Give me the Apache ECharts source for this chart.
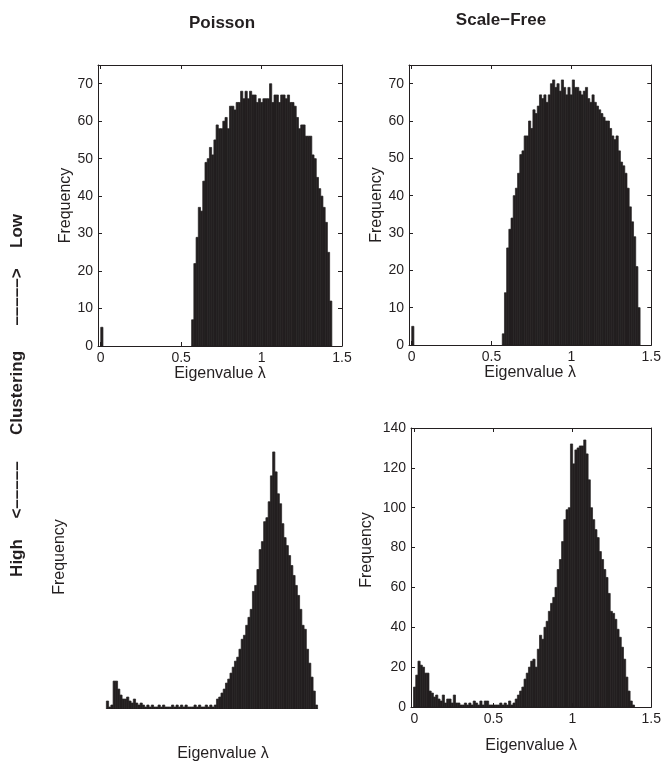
<!DOCTYPE html>
<html><head><meta charset="utf-8">
<script src="https://cdn.jsdelivr.net/npm/echarts@6/dist/echarts.min.js"></script>
<style>html,body{margin:0;padding:0;background:#fff}#c{width:664px;height:762px}</style>
</head><body><div id="c"></div>
<script>
// ---------------- data ----------------
const xTickValues = [0, 0.5, 1, 1.5];
const yTicksLowClustering = [0, 10, 20, 30, 40, 50, 60, 70];
const yTicksHighScaleFree = [0, 20, 40, 60, 80, 100, 120, 140];

// Poisson, low clustering
const poissonLowZeroBin = 5;
const poissonLowStart = 0.565;
const poissonLowWidth = 0.01384;
const poissonLowCounts = [7,22,29,37,36,44,49,50,53,51, 55,59,58,58,60,61,58,64,64,63,
  65,65,68,66,68,66,68,67,67,65, 66,65,66,66,66,70,65,67,67,65,
  67,67,66,67,65,65,64,61,58,59, 59,56,56,56,51,50,45,42,40,37,
  33,25,12];

// Scale-Free, low clustering
const scaleFreeLowZeroBin = 5;
const scaleFreeLowStart = 0.567;
const scaleFreeLowWidth = 0.0137;
const scaleFreeLowCounts = [3,14,26,31,34,40,42,46,51,52, 56,56,60,58,63,62,64,67,66,67,
  65,67,70,71,69,70,68,71,69,67, 69,67,71,69,69,68,67,68,69,66,
  65,67,65,64,63,62,61,60,60,58, 56,55,56,52,49,48,46,42,37,33,
  29,21,10];

// Poisson, high clustering
const poissonHighStart = 0.035;
const poissonHighWidth = 0.01397;
const poissonHighCounts = [4,1,2,14,14,10,7,5,5,6, 4,3,5,3,2,3,2,1,2,1,
  2,1,1,2,1,2,1,1,1,2, 1,2,1,2,1,2,1,1,1,2,
  1,2,1,1,2,1,2,1,2,5, 6,8,10,13,15,18,21,24,26,30,
  35,37,42,46,50,59,62,70,80,84, 94,96,104,117,129,119,108,103,93,86,
  82,77,72,67,62,57,50,42,40,30, 23,16,9,2];

// Scale-Free, high clustering
const scaleFreeHighStart = -0.006;
const scaleFreeHighWidth = 0.014;
const scaleFreeHighCounts = [10,16,23,21,20,17,17,8,7,5, 6,4,3,6,2,4,4,2,6,2,
  2,1,1,2,1,2,1,3,2,1, 3,1,3,3,1,1,1,1,1,2,
  1,2,1,3,1,2,4,6,8,10, 14,17,20,23,24,20,29,36,34,40,
  43,48,52,55,60,69,74,83,94,99, 100,132,122,129,130,131,131,134,127,114,
  100,94,89,85,78,74,69,65,57,48, 47,44,39,35,30,24,15,8,3,1];

const columnTitles = ['Poisson', 'Scale\u2212Free'];
const rowTitleParts = ['Low', '\u2013\u2013\u2013\u2013\u2013>', 'Clustering', '<\u2013\u2013\u2013\u2013\u2013', 'High'];
const xName = 'Eigenvalue \u03bb';
const yName = 'Frequency';

// ---------------- helpers ----------------
const INK = '#231f20';
const FONT = '"Liberation Sans", Arial, Helvetica, sans-serif';

function bins(start, width, counts) {
  return counts.map((c, i) => [start + i * width, start + (i + 1) * width, c]);
}
function histItem(params, api) {
  const x0 = api.value(0), x1 = api.value(1), v = api.value(2);
  if (!v) return null;
  const a = api.coord([x0, v]);
  const b = api.coord([x1, 0]);
  return {
    type: 'rect',
    shape: { x: a[0], y: a[1], width: b[0] - a[0], height: b[1] - a[1] },
    style: { fill: INK, stroke: INK, lineWidth: 0.7 }
  };
}
function histSeries(xi, yi, data) {
  return {
    type: 'custom', xAxisIndex: xi, yAxisIndex: yi, renderItem: histItem,
    encode: { x: [0, 1], y: 2 }, data: data, silent: true, animation: false, clip: true
  };
}
const lineStyle = { color: INK, width: 1 };
function xAxisMain(grid, min, max, nameGap) {
  return {
    type: 'value', gridIndex: grid, position: 'bottom', min: min, max: max,
    axisLine: { show: true, onZero: false, lineStyle: lineStyle },
    axisTick: { show: true, inside: true, length: 4, lineStyle: lineStyle, customValues: xTickValues },
    axisLabel: { show: true, margin: 5, color: INK, fontSize: 14, fontFamily: FONT, customValues: xTickValues,
      formatter: v => String(v) },
    splitLine: { show: false },
    name: xName, nameLocation: 'middle', nameGap: nameGap,
    nameTextStyle: { color: INK, fontSize: 16, fontFamily: FONT }
  };
}
function xAxisMirror(grid, min, max) {
  return {
    type: 'value', gridIndex: grid, position: 'top', min: min, max: max,
    axisLine: { show: true, onZero: false, lineStyle: lineStyle },
    axisTick: { show: true, inside: true, length: 4, lineStyle: lineStyle, customValues: xTickValues },
    axisLabel: { show: false }, splitLine: { show: false }
  };
}
function yAxisMain(grid, max, ticks, name, nameGap) {
  return {
    type: 'value', gridIndex: grid, position: 'left', min: 0, max: max,
    axisLine: { show: true, onZero: false, lineStyle: lineStyle },
    axisTick: { show: true, inside: true, length: 4, lineStyle: lineStyle, customValues: ticks },
    axisLabel: { show: true, margin: 5, color: INK, fontSize: 14, fontFamily: FONT, customValues: ticks },
    splitLine: { show: false },
    name: name, nameLocation: 'middle', nameGap: nameGap, nameRotate: 90,
    nameTextStyle: { color: INK, fontSize: 16, fontFamily: FONT }
  };
}
function yAxisMirror(grid, max, ticks) {
  return {
    type: 'value', gridIndex: grid, position: 'right', min: 0, max: max,
    axisLine: { show: true, onZero: false, lineStyle: lineStyle },
    axisTick: { show: true, inside: true, length: 4, lineStyle: lineStyle, customValues: ticks },
    axisLabel: { show: false }, splitLine: { show: false }
  };
}
function vText(x, y, text, font) {
  return { type: 'text', x: x, y: y, rotation: Math.PI / 2,
    style: { text: text, fill: INK, font: font, align: 'center', verticalAlign: 'middle' } };
}

// ---------------- chart ----------------
const chart = echarts.init(document.getElementById('c'), null, { renderer: 'canvas' });

const option = {
  backgroundColor: '#ffffff',
  animation: false,
  textStyle: { fontFamily: FONT, color: INK },
  grid: [
    { left: 98, top: 65, width: 244, height: 281 },   // Poisson low
    { left: 409, top: 65, width: 245, height: 280 },  // Scale-Free low
    { left: 98, top: 430, width: 244, height: 279 },  // Poisson high (axes off)
    { left: 411, top: 428, width: 241, height: 279 }  // Scale-Free high
  ],
  xAxis: [
    xAxisMain(0, -0.017, 1.5, 18),
    xAxisMirror(0, -0.017, 1.5),
    xAxisMain(1, -0.017, 1.5, 18),
    xAxisMirror(1, -0.017, 1.5),
    { type: 'value', gridIndex: 2, min: -0.017, max: 1.5, show: false },
    xAxisMain(3, -0.022, 1.5, 31),
    xAxisMirror(3, -0.022, 1.5)
  ],
  yAxis: [
    yAxisMain(0, 75, yTicksLowClustering, yName, 24),
    yAxisMirror(0, 75, yTicksLowClustering),
    yAxisMain(1, 75, yTicksLowClustering, yName, 21),
    yAxisMirror(1, 75, yTicksLowClustering),
    { type: 'value', gridIndex: 2, min: 0, max: 140, show: false },
    yAxisMain(3, 140, yTicksHighScaleFree, '', 30),
    yAxisMirror(3, 140, yTicksHighScaleFree)
  ],
  series: [
    histSeries(0, 0, [[0, poissonLowWidth, poissonLowZeroBin]].concat(bins(poissonLowStart, poissonLowWidth, poissonLowCounts))),
    histSeries(2, 2, [[0, scaleFreeLowWidth, scaleFreeLowZeroBin]].concat(bins(scaleFreeLowStart, scaleFreeLowWidth, scaleFreeLowCounts))),
    histSeries(4, 4, bins(poissonHighStart, poissonHighWidth, poissonHighCounts)),
    histSeries(5, 5, bins(scaleFreeHighStart, scaleFreeHighWidth, scaleFreeHighCounts))
  ],
  graphic: [
    { type: 'text', x: 222, y: 23, style: { text: columnTitles[0], fill: INK, font: 'bold 17px ' + FONT, align: 'center', verticalAlign: 'middle' } },
    { type: 'text', x: 501, y: 20, style: { text: columnTitles[1], fill: INK, font: 'bold 17px ' + FONT, align: 'center', verticalAlign: 'middle' } },
    // row title, reading bottom to top
    vText(17, 231, rowTitleParts[0], 'bold 17px ' + FONT),
    vText(17, 297, rowTitleParts[1], 'bold 17px ' + FONT),
    vText(17, 393, rowTitleParts[2], 'bold 17px ' + FONT),
    vText(17, 490, rowTitleParts[3], 'bold 17px ' + FONT),
    vText(17, 558, rowTitleParts[4], 'bold 17px ' + FONT),
    // Poisson high-clustering axis titles (axes hidden)
    vText(60, 557, yName, '16px ' + FONT),
    { type: 'text', x: 223, y: 754, style: { text: xName, fill: INK, font: '16px ' + FONT, align: 'center', verticalAlign: 'middle' } },
    // Scale-Free high-clustering y title
    vText(367, 550, yName, '16px ' + FONT)
  ]
};
chart.setOption(option);
</script>
</body></html>
